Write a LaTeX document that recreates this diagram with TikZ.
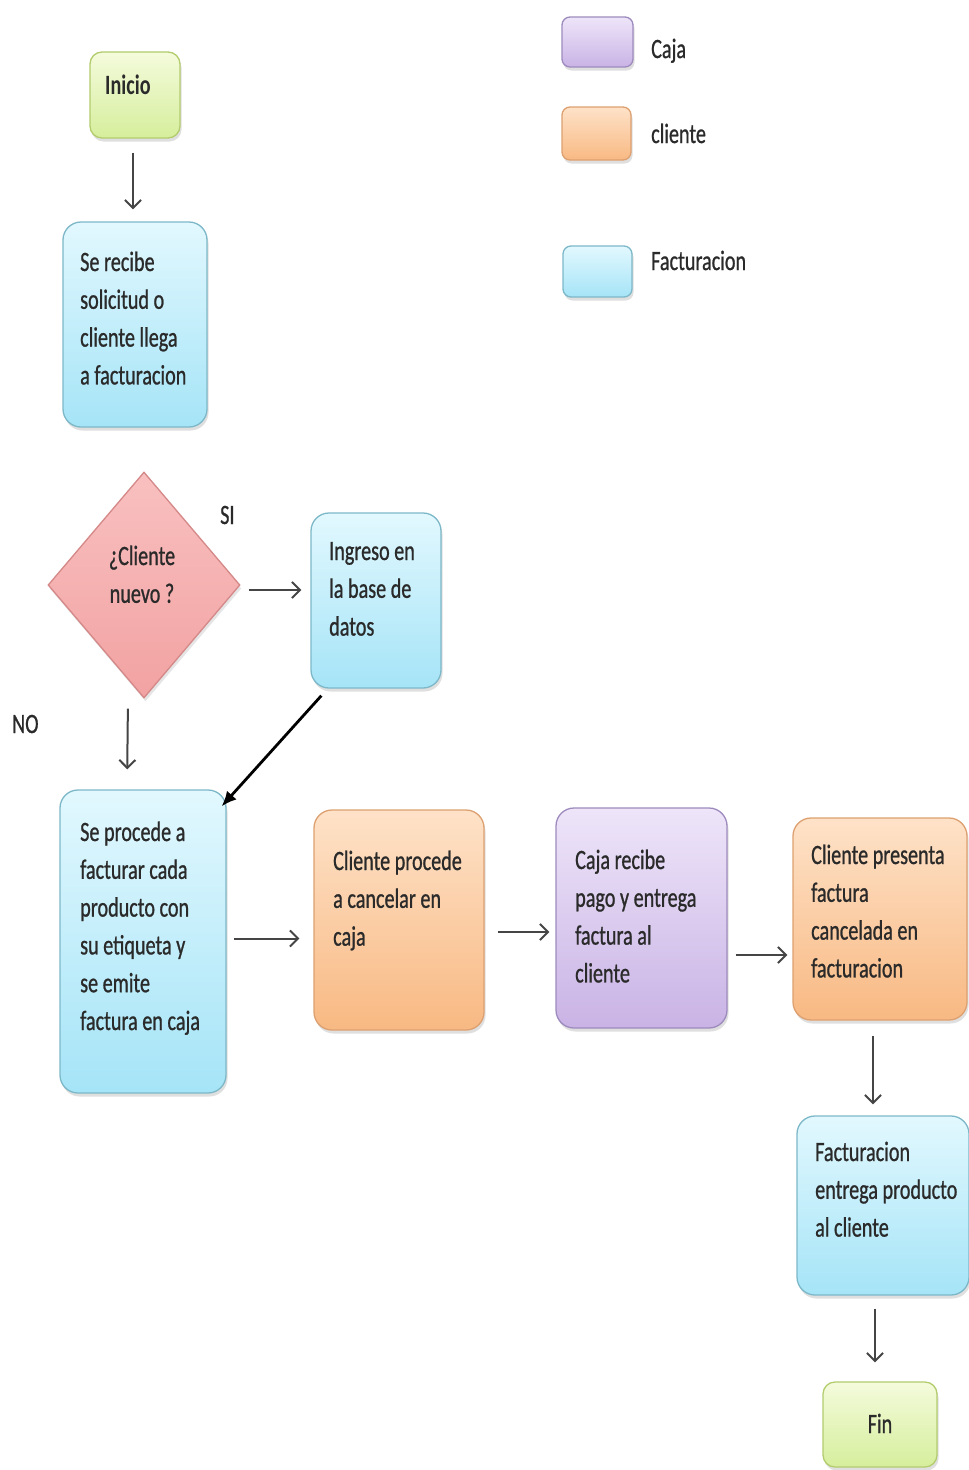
\documentclass[tikz,border=0pt]{standalone}
\usepackage{fontspec}
\setmainfont{Carlito}[FakeStretch=0.72,FakeBold=0.8,BoldFeatures={FakeBold=0}]
\usetikzlibrary{shapes.geometric,arrows.meta,shadows,calc}
\definecolor{txtc}{HTML}{2A2A2A}
\definecolor{grntop}{HTML}{F4FBDC}
\definecolor{grnbot}{HTML}{D6EE9C}
\definecolor{grnbd}{HTML}{B3CC6E}
\definecolor{blutop}{HTML}{E2F8FE}
\definecolor{blubot}{HTML}{A5E4F7}
\definecolor{blubd}{HTML}{7DB8C8}
\definecolor{orgtop}{HTML}{FEE2C8}
\definecolor{orgbot}{HTML}{F8B983}
\definecolor{orgbd}{HTML}{DDA070}
\definecolor{purtop}{HTML}{EEE5F9}
\definecolor{purbot}{HTML}{C9B3E5}
\definecolor{purbd}{HTML}{9E8BBE}
\definecolor{pnktop}{HTML}{F9C0C0}
\definecolor{pnkbot}{HTML}{F2A2A2}
\definecolor{pnkbd}{HTML}{D48888}
\definecolor{arrc}{HTML}{454545}
\tikzset{
  basebox/.style={draw, rounded corners=18pt, line width=1.3pt, inner sep=0pt,
    drop shadow={shadow xshift=1.5pt, shadow yshift=-3.5pt, opacity=0.25}},
  facbox/.style={basebox, draw=blubd, top color=blutop, bottom color=blubot},
  clibox/.style={basebox, draw=orgbd, top color=orgtop, bottom color=orgbot},
  cajbox/.style={basebox, draw=purbd, top color=purtop, bottom color=purbot},
  endbox/.style={basebox, rounded corners=12pt, draw=grnbd, top color=grntop, bottom color=grnbot},
  legbox/.style={rounded corners=8pt},
  txt/.style={inner sep=0pt, anchor=base west, text=txtc, font=\fontsize{28}{37.8}\selectfont},
  arr/.style={draw=arrc, line width=2pt, -{Straight Barb[length=8pt,width=16pt,line width=2pt]}},
  darr/.style={draw=black, line width=2.8pt, -{Latex[length=15pt,width=13pt]}}
}
\newcommand{\lns}[2]{\parbox[t]{#1pt}{\raggedright #2}}
\begin{document}
\begin{tikzpicture}[x=1pt,y=-1pt]
\useasboundingbox[fill=white] (0,0) rectangle (969,1470);

% legend
\node[cajbox, legbox, minimum width=71, minimum height=50] (lcaja) at (597.5,42) {};
\node[clibox, legbox, minimum width=69, minimum height=53] (lcli) at (596.5,133.5) {};
\node[facbox, legbox, minimum width=69, minimum height=51] (lfac) at (597.5,271.5) {};
\node[txt] (tlcaja) at (651,58) {Caja};
\node[txt] (tlcli) at (651,143) {cliente};
\node[txt] (tlfac) at (651,270) {Facturacion};

% nodes
\node[endbox, minimum width=90, minimum height=86] (ini) at (135,95) {};
\node[txt, font=\fontsize{28}{37.8}\selectfont\bfseries] (tini) at (105,94) {Inicio};

\node[facbox, minimum width=144, minimum height=205] (rec) at (135,324.5) {};
\node[txt] (trec) at (80,271) {\lns{130}{Se recibe\\solicitud o\\cliente llega\\a facturacion}};

\node[diamond, draw=pnkbd, line width=1.3pt, top color=pnktop, bottom color=pnkbot,
  minimum width=192, minimum height=226, inner sep=0pt, aspect=0.85,
  drop shadow={shadow xshift=1.5pt, shadow yshift=-3.5pt, opacity=0.2}] (dia) at (144,585) {};
\node[txt, anchor=base, align=center] (tdia) at (142,565) {\parbox[t]{120pt}{\centering ¿Cliente\\nuevo ?}};
\node[txt] (tsi) at (220,524) {SI};
\node[txt] (tno) at (12,733) {NO};

\node[facbox, minimum width=130, minimum height=175] (ing) at (376,600.5) {};
\node[txt] (ting) at (329,560) {\lns{110}{Ingreso en\\la base de\\datos}};

\node[facbox, minimum width=166, minimum height=303] (proc) at (143,941.5) {};
\node[txt] (tproc) at (80,841) {\lns{140}{Se procede a\\facturar cada\\producto con\\su etiqueta y\\se emite\\factura en caja}};

\node[clibox, minimum width=170, minimum height=220] (cp) at (399,920) {};
\node[txt] (tcp) at (333,870) {\lns{150}{Cliente procede\\a cancelar en\\caja}};

\node[cajbox, minimum width=171, minimum height=220] (caja) at (641.5,918) {};
\node[txt] (tcaja) at (575,869) {\lns{150}{Caja recibe\\pago y entrega\\factura al\\cliente}};

\node[clibox, minimum width=174, minimum height=202] (pres) at (880,919) {};
\node[txt] (tpres) at (811,864) {\lns{150}{Cliente presenta\\factura\\cancelada en\\facturacion}};

\node[facbox, minimum width=172, minimum height=179] (ent) at (883,1205.5) {};
\node[txt] (tent) at (815,1161) {\lns{150}{Facturacion\\entrega producto\\al cliente}};

\node[endbox, minimum width=114, minimum height=85] (fin) at (880,1424.5) {};
\node[txt, anchor=base] (tfin) at (880,1433) {Fin};

% connectors
\draw[arr, shorten <=14pt, shorten >=12pt] ([xshift=-2pt]ini.south) -- ([xshift=-2pt]rec.north);
\draw[arr, shorten <=8pt, shorten >=9pt] ($(dia.east)+(0,5)$) -- ($(ing.west |- dia.east)+(0,5)$);
\draw[arr, shorten <=10pt, shorten >=20pt] ([xshift=-16pt]dia.south) -- ([xshift=-16pt]proc.north);
\draw[darr] ($(ing.south west)+(11,7)$) -- ($(proc.north east)+(-5,17)$);
\draw[arr, shorten <=7pt, shorten >=14pt] ($(proc.east)+(0,-3)$) -- ($(cp.west |- proc.east)+(0,-3)$);
\draw[arr, shorten <=13pt, shorten >=6pt] ($(cp.east)+(0,12)$) -- ($(caja.west |- cp.east)+(0,12)$);
\draw[arr, shorten <=8pt, shorten >=5pt] ($(caja.east)+(0,37)$) -- ($(pres.west |- caja.east)+(0,37)$);
\draw[arr, shorten <=15pt, shorten >=11pt] ([xshift=-7pt]pres.south) -- ([xshift=-7pt]pres.south |- ent.north);
\draw[arr, shorten <=13pt, shorten >=19pt] ([xshift=-8pt]ent.south) -- ([xshift=-8pt]ent.south |- fin.north);
\end{tikzpicture}
\end{document}
